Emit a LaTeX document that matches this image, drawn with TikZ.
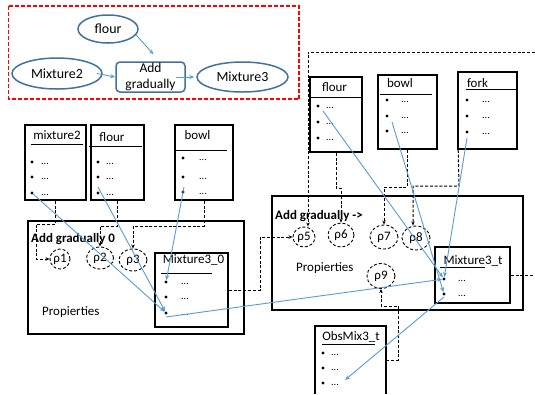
\documentclass[tikz,border=0pt]{standalone}
\usepackage{fontspec}
\setmainfont{Carlito}
\usetikzlibrary{shapes.geometric,arrows.meta,calc}
\definecolor{linkblue}{RGB}{91,155,213}
\definecolor{ovalblue}{RGB}{65,113,156}
\definecolor{framered}{RGB}{255,0,0}
\tikzset{
  obj/.style={draw, rectangle, line width=1.6bp, inner sep=0pt},
  grp/.style={draw, rectangle, line width=2.2bp, inner sep=0pt},
  ttl/.style={inner sep=0pt, font=\fontsize{13}{15}\selectfont},
  bul/.style={circle, fill, inner sep=0pt, minimum size=3.4bp},
  dts/.style={inner sep=0pt, font=\fontsize{10}{11}\selectfont},
  uline/.style={line width=1bp},
  rho/.style={draw, ellipse, dashed, dash pattern=on 3bp off 2bp, line width=0.9bp, inner sep=0pt, font=\fontsize{13}{15}\selectfont},
  oval/.style={draw=ovalblue, ellipse, line width=1.5bp, inner sep=0pt, font=\fontsize{14}{16}\selectfont},
  proc/.style={draw=ovalblue, rectangle, rounded corners=4bp, line width=1.5bp, inner sep=0pt, align=center, font=\fontsize{13.5}{16}\selectfont},
  dline/.style={draw, dash pattern=on 3bp off 1.8bp, line width=1bp},
  dcon/.style={dline, -{Stealth[length=4bp,width=3.5bp]}},
  bcon/.style={draw=linkblue, line width=0.9bp, -{Stealth[length=5bp,width=4bp]}},
  reddash/.style={draw=framered, dash pattern=on 4bp off 2bp, line width=1.4bp},
  lbl/.style={inner sep=0pt, anchor=west, font=\fontsize{13}{15}\selectfont},
}
% a bullet with its "..." entry
\newcommand\bulrow[4]{\node[bul] (#1) at (#2,#4) {}; \node[dts] (#1d) at (#3,#4+2) {...};}
\begin{document}
\begin{tikzpicture}[x=1bp,y=-1bp]
\useasboundingbox (0,0) rectangle (535,394);

% ---------- overview of the step ----------
\draw[reddash] (8.5,6) rectangle (299,99);
\node[oval, minimum width=60bp, minimum height=28bp] (tflour) at (108,29) {flour};
\node[oval, minimum width=90bp, minimum height=31bp] (tmix2) at (57,73.5) {Mixture2};
\node[proc, minimum width=69bp, minimum height=30bp] (tadd) at (150.5,77) {Add\\gradually};
\node[oval, minimum width=91bp, minimum height=30bp] (tmix3) at (242.5,77) {Mixture3};
\draw[bcon] (tflour.-12) -- ([xshift=3bp,yshift=7bp]tadd.north);
\draw[bcon] ([xshift=-6bp]tmix2.east) -- (tadd.west);
\draw[bcon] ([xshift=-10bp]tadd.east) -- ([xshift=-2bp]tmix3.west);

% ---------- first step: inputs ----------
\node[obj, minimum width=61bp, minimum height=75bp] (mixL) at (55.5,162.5) {};
\node[ttl] (mixLt) at (57,135) {mixture2};
\draw[uline] (31,144) -- (83,144);
\bulrow{mixL1}{32}{45}{162}
\bulrow{mixL2}{32}{45}{177}
\bulrow{mixL3}{32}{45}{193}

\node[obj, minimum width=53bp, minimum height=75bp] (flourL) at (117.5,162.5) {};
\node[ttl] (flourLt) at (112,137) {flour};
\draw[uline] (89,146) -- (142,146);
\bulrow{flourL1}{98}{110}{162}
\bulrow{flourL2}{98}{110}{177}
\bulrow{flourL3}{98}{110}{193}

\node[obj, minimum width=58bp, minimum height=75bp] (bowlL) at (204,162.5) {};
\node[ttl] (bowlLt) at (197.5,135) {bowl};
\draw[uline] (176,150) -- (227,150);
\bulrow{bowlL1}{183}{203}{158}
\bulrow{bowlL2}{183}{203}{177}
\bulrow{bowlL3}{183}{203}{192}

% ---------- first step: process ----------
\node[grp, minimum width=216bp, minimum height=113bp] (grp0) at (136,277.5) {};
\node[lbl, font=\fontsize{13}{15}\selectfont\bfseries] (grp0t) at (31,239) {Add gradually 0};
\node[rho, minimum width=20bp, minimum height=20bp] (p1) at (60,259) {ρ1};
\node[rho, minimum width=27bp, minimum height=22bp] (p2) at (100,258) {ρ2};
\node[rho, minimum width=28bp, minimum height=22bp] (p3) at (133,260) {ρ3};
\node[lbl] (prop0) at (42,312) {Propierties};

\node[obj, minimum width=73bp, minimum height=74bp] (mix30) at (191.5,290) {};
\node[ttl] (mix30t) at (193.5,260) {Mixture3\_0};
\draw[uline] (161,273) -- (212,273);
\bulrow{m301}{166}{185}{282}
\bulrow{m302}{166}{185}{297}
\bulrow{m303}{166}{185}{313}

% ---------- later step: inputs ----------
\node[obj, minimum width=52bp, minimum height=75bp] (flourR) at (336,114.5) {};
\node[ttl] (flourRt) at (334.5,87) {flour};
\draw[uline] (310,97) -- (362,97);
\bulrow{flourR1}{318}{330}{106}
\bulrow{flourR2}{318}{330}{122}
\bulrow{flourR3}{318}{330}{138}

\node[obj, minimum width=59bp, minimum height=74bp] (bowlR) at (407.5,112) {};
\node[ttl] (bowlRt) at (400,83) {bowl};
\draw[uline] (380,94) -- (432,94);
\bulrow{bowlR1}{387}{405}{100}
\bulrow{bowlR2}{387}{405}{116}
\bulrow{bowlR3}{387}{405}{131}

\node[obj, minimum width=59bp, minimum height=77bp] (forkR) at (487.5,110.5) {};
\node[ttl] (forkRt) at (477.5,83) {fork};
\draw[uline] (466,89) -- (516,89);
\bulrow{forkR1}{467}{486}{100}
\bulrow{forkR2}{467}{486}{116}
\bulrow{forkR3}{467}{486}{132}

% ---------- later step: process ----------
\node[grp, minimum width=251bp, minimum height=114bp] (grpT) at (397.5,253) {};
\node[lbl, font=\fontsize{13}{15}\selectfont\bfseries] (grpTt) at (275,216) {Add gradually ->};
\node[rho, minimum width=22bp, minimum height=20bp] (p5) at (304,237) {ρ5};
\node[rho, minimum width=26bp, minimum height=24bp] (p6) at (341,235) {ρ6};
\node[rho, minimum width=28bp, minimum height=24bp] (p7) at (384,237) {ρ7};
\node[rho, minimum width=28bp, minimum height=24bp] (p8) at (416,238) {ρ8};
\node[rho, minimum width=28bp, minimum height=25bp] (p9) at (381,276) {ρ9};
\node[lbl] (propT) at (296,268) {Propierties};

\node[obj, minimum width=75bp, minimum height=56bp] (mix3t) at (472.5,275) {};
\node[ttl] (mix3tt) at (473,261) {Mixture3\_t};
\draw[uline] (440,267) -- (485,267);
\bulrow{m3t1}{444}{462}{279}
\bulrow{m3t2}{444}{462}{294}

% ---------- observation ----------
\node[inner sep=0pt, minimum width=71bp, minimum height=68bp] (obs) at (350.5,360) {};
\draw[line width=1.6bp] (obs.south west) -- (obs.north west) -- (obs.north east) -- (obs.south east);
\node[ttl] (obst) at (351,337) {ObsMix3\_t};
\draw[uline] (322,344) -- (375,344);
\bulrow{obs1}{323}{335}{353}
\bulrow{obs2}{323}{335}{368}
\bulrow{obs3}{323}{335}{383}

% ---------- parameter links (dashed) ----------
\coordinate (loopTop) at (535,52);
\coordinate (loopRight) at (535,275);
\draw[dcon] (mixL.south) -- (55.5,224) -- (36,224) |- (p1.west);
\draw[dcon] (flourL.south) -- (117.5,226) -| (p2.north);
\draw[dcon] (bowlL.south) -- (204,226) -| (p3.north);
\draw[dcon] (mix30.east) -- (260,290) |- (p5.west);
\draw[dcon] (loopTop) -| ([xshift=4bp]p5.north);
\draw[dline] (mix3t.east) -- (loopRight);
\draw[dcon] (flourR.south) -- (336,188) -| (p6.north);
\draw[dcon] (bowlR.south) -- (407.5,187) -| (p7.north);
\draw[dcon] ([xshift=1bp]forkR.south west) -- (459,186) -| ([xshift=-3bp]p8.north);
\draw[dcon] (obs.east) -- (398,360) -- (398,306) -| (p9.south);

% ---------- value links (blue) ----------
\draw[bcon] (mixL3) -- (m303);
\draw[bcon] ([yshift=6bp]flourL3.center) -- (m303);
\draw[bcon] ([xshift=1bp,yshift=5bp]bowlL3.center) -- (m301);
\draw[bcon] ([yshift=-4bp]m303.center) -- (m3t1);
\draw[bcon] ([xshift=5bp,yshift=-5bp]flourR1.center) -- (m3t1);
\draw[bcon] ([xshift=5bp,yshift=-6bp]bowlR2.center) -- (m3t2);
\draw[bcon] ([yshift=-6bp]forkR3.center) -- (m3t1);
\draw[bcon] ([yshift=-3bp]m3t2.center) -- ([xshift=22bp,yshift=3bp]obs3.center);
\end{tikzpicture}
\end{document}
